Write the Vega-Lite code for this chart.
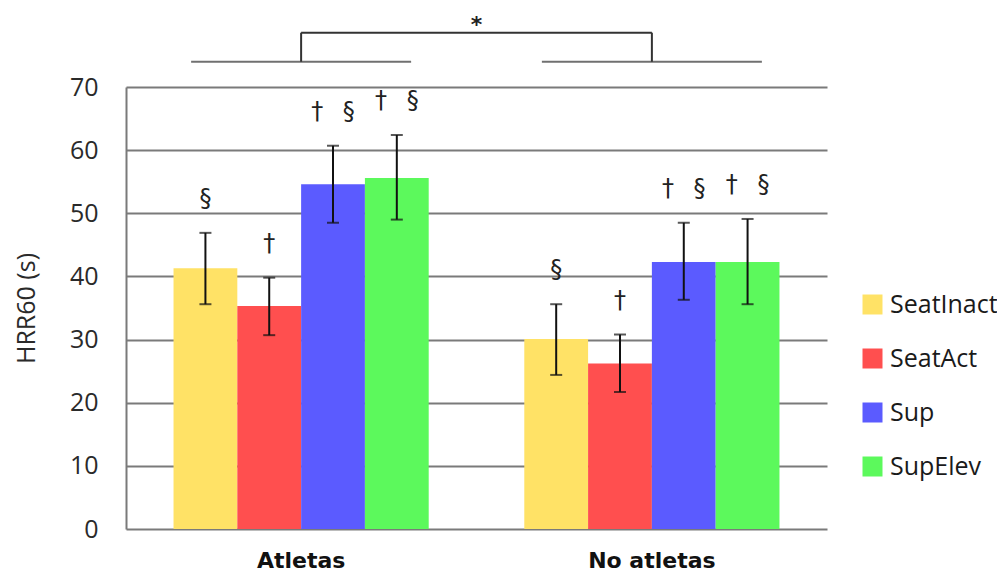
{
  "$schema": "https://vega.github.io/schema/vega-lite/v6.json",
  "autosize": {"type": "none"},
  "width": 701,
  "height": 442,
  "padding": {"left": 126, "top": 87, "right": 170, "bottom": 42},
  "background": "white",
  "config": {"view": {"stroke": null}},
  "title": {"text": "*", "anchor": "middle", "frame": "group", "fontSize": 22, "font": "DejaVu Sans", "fontWeight": "bold", "color": "#222", "offset": -5},
  "datasets": {
    "bars": [
      {"group": "Atletas", "cond": "SeatInact", "mean": 41.3, "lo": 35.6, "hi": 46.9, "sym": "§"},
      {"group": "Atletas", "cond": "SeatAct", "mean": 35.3, "lo": 30.7, "hi": 39.8, "sym": "†"},
      {"group": "Atletas", "cond": "Sup", "mean": 54.6, "lo": 48.5, "hi": 60.7, "sym": "† \u2002§"},
      {"group": "Atletas", "cond": "SupElev", "mean": 55.6, "lo": 49.0, "hi": 62.4, "sym": "† \u2002§"},
      {"group": "No atletas", "cond": "SeatInact", "mean": 30.1, "lo": 24.4, "hi": 35.6, "sym": "§"},
      {"group": "No atletas", "cond": "SeatAct", "mean": 26.2, "lo": 21.7, "hi": 30.8, "sym": "†"},
      {"group": "No atletas", "cond": "Sup", "mean": 42.3, "lo": 36.3, "hi": 48.5, "sym": "† \u2002§"},
      {"group": "No atletas", "cond": "SupElev", "mean": 42.3, "lo": 35.6, "hi": 49.1, "sym": "† \u2002§"}
    ],
    "bracket": [
      {"from": "Atletas", "to": "No atletas"}
    ],
    "groups": [
      {"group": "Atletas"},
      {"group": "No atletas"}
    ]
  },
  "encoding": {
    "x": {
      "field": "group", "type": "nominal", "sort": ["Atletas", "No atletas"],
      "scale": {"domain": ["Atletas", "No atletas"], "paddingInner": 0.2725, "paddingOuter": 0.1355},
      "axis": {"title": null, "labelAngle": 0, "domain": false, "ticks": false, "labelFont": "DejaVu Sans", "labelFontWeight": "bold", "labelFontSize": 22, "labelColor": "#111", "labelPadding": 21}
    }
  },
  "layer": [
    {
      "data": {"name": "bars"},
      "mark": {"type": "bar", "stroke": null},
      "encoding": {
        "xOffset": {"field": "cond", "type": "nominal", "sort": ["SeatInact", "SeatAct", "Sup", "SupElev"], "scale": {"paddingInner": 0, "paddingOuter": 0}},
        "y": {
          "field": "mean", "type": "quantitative",
          "scale": {"domain": [0, 70], "nice": false, "zero": true},
          "axis": {"title": "HRR60 (s)", "values": [0, 10, 20, 30, 40, 50, 60, 70], "grid": true, "gridColor": "#7a7a7a", "gridWidth": 2, "domain": true, "domainColor": "#7a7a7a", "domainWidth": 2, "ticks": false, "labelFont": "Open Sans", "labelFontSize": 25, "labelColor": "#2a2a2a", "labelPadding": 28, "titleFont": "Open Sans", "titleFontSize": 25, "titleFontWeight": "normal", "titleColor": "#2a2a2a", "titlePadding": 30}
        },
        "color": {
          "field": "cond", "type": "nominal",
          "scale": {"domain": ["SeatInact", "SeatAct", "Sup", "SupElev"], "range": ["#FFE266", "#FF4F4F", "#5B5BFF", "#5CF95C"]},
          "legend": {"title": null, "orient": "none", "legendX": 734, "legendY": 205, "symbolType": "square", "symbolSize": 400, "symbolStrokeWidth": 0, "labelFont": "Open Sans", "labelFontSize": 25, "labelColor": "#1a1a1a", "labelOffset": 5, "rowPadding": 28}
        }
      }
    },
    {
      "data": {"name": "bars"},
      "mark": {"type": "rule", "color": "#111", "strokeWidth": 2},
      "encoding": {
        "xOffset": {"field": "cond", "type": "nominal", "sort": ["SeatInact", "SeatAct", "Sup", "SupElev"]},
        "y": {"field": "lo", "type": "quantitative", "scale": {"domain": [0, 70], "nice": false}},
        "y2": {"field": "hi"}
      }
    },
    {
      "data": {"name": "bars"},
      "mark": {"type": "tick", "orient": "horizontal", "color": "#111", "size": 12, "thickness": 2},
      "encoding": {
        "xOffset": {"field": "cond", "type": "nominal", "sort": ["SeatInact", "SeatAct", "Sup", "SupElev"]},
        "y": {"field": "lo", "type": "quantitative", "scale": {"domain": [0, 70], "nice": false}}
      }
    },
    {
      "data": {"name": "bars"},
      "mark": {"type": "tick", "orient": "horizontal", "color": "#111", "size": 12, "thickness": 2},
      "encoding": {
        "xOffset": {"field": "cond", "type": "nominal", "sort": ["SeatInact", "SeatAct", "Sup", "SupElev"]},
        "y": {"field": "hi", "type": "quantitative", "scale": {"domain": [0, 70], "nice": false}}
      }
    },
    {
      "data": {"name": "bars"},
      "mark": {"type": "text", "font": "DejaVu Sans", "fontSize": 24, "color": "#222", "baseline": "middle", "dy": -34},
      "encoding": {
        "xOffset": {"field": "cond", "type": "nominal", "sort": ["SeatInact", "SeatAct", "Sup", "SupElev"]},
        "y": {"field": "hi", "type": "quantitative", "scale": {"domain": [0, 70], "nice": false}},
        "text": {"field": "sym"}
      }
    },
    {
      "data": {"name": "groups"},
      "mark": {"type": "tick", "orient": "horizontal", "color": "#333", "size": 220, "thickness": 2},
      "encoding": {
        "y": {"datum": 74, "type": "quantitative", "scale": {"domain": [0, 70], "nice": false}}
      }
    },
    {
      "data": {"name": "groups"},
      "mark": {"type": "rule", "color": "#333", "strokeWidth": 2},
      "encoding": {
        "y": {"datum": 74, "type": "quantitative", "scale": {"domain": [0, 70], "nice": false}},
        "y2": {"datum": 78.6}
      }
    },
    {
      "data": {"name": "bracket"},
      "mark": {"type": "rule", "color": "#333", "strokeWidth": 2},
      "encoding": {
        "x": {"field": "from", "type": "nominal"},
        "x2": {"field": "to"},
        "y": {"datum": 78.6, "type": "quantitative", "scale": {"domain": [0, 70], "nice": false}}
      }
    }
  ]
}
